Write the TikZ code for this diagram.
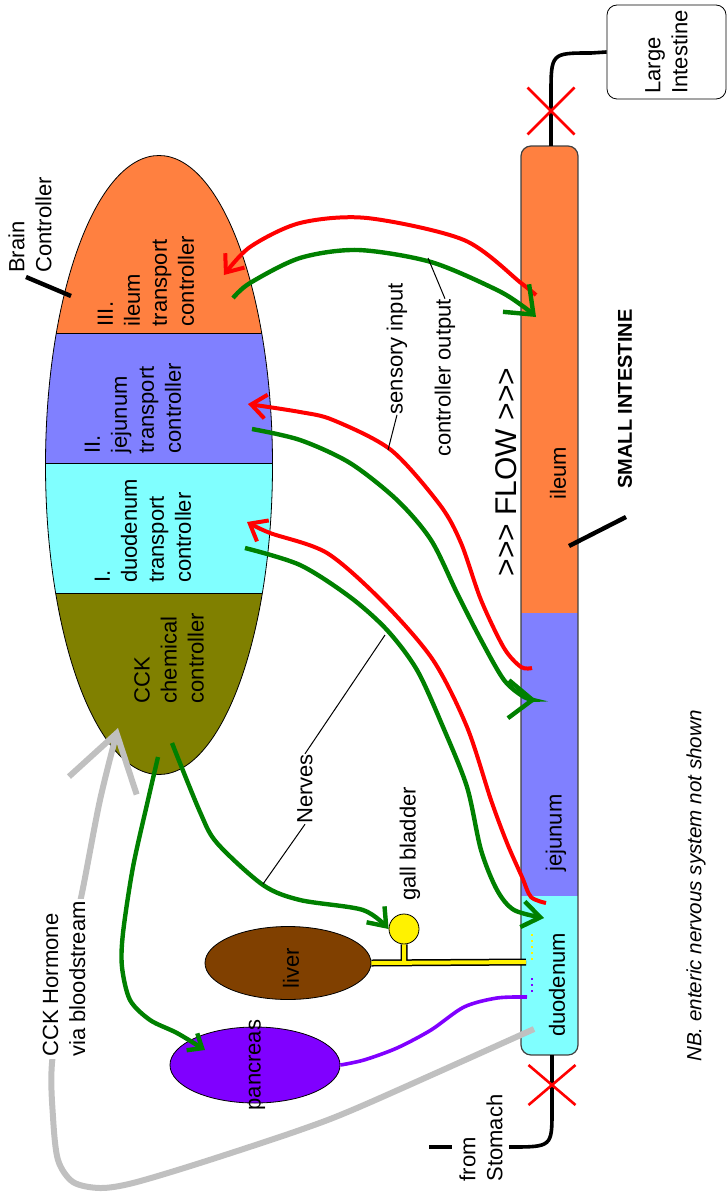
\documentclass[tikz,border=0pt]{standalone}
\usepackage{fontspec}
\setmainfont{Liberation Sans}
\usetikzlibrary{arrows.meta,shapes.geometric,shapes.misc}
\definecolor{ilc}{HTML}{FF8040}
\definecolor{jec}{HTML}{8080FF}
\definecolor{duc}{HTML}{80FFFF}
\definecolor{cckc}{HTML}{808000}
\definecolor{liverc}{HTML}{804000}
\definecolor{pancc}{HTML}{8000FF}
\definecolor{nervegreen}{HTML}{008000}
\definecolor{hormgray}{HTML}{C0C0C0}
\tikzset{
  lbl/.style={rotate=90, align=left, inner sep=0pt},
  sense/.style={line width=2pt, red, -{Straight Barb[length=7.5pt,width=12pt]}},
  ctrl/.style={line width=2.2pt, nervegreen, -{Straight Barb[length=12pt,width=19pt]}},
  hormone/.style={line width=3pt, hormgray, -{Straight Barb[length=27pt,width=35pt]}},
  organ/.style={ellipse, draw, inner sep=0pt},
  valve/.style={cross out, draw=red, line width=1.3pt, inner sep=0pt, outer sep=0pt},
  leader/.style={line width=0.5pt},
  heavy/.style={line width=2.2pt},
  gut/.style={line width=1.8pt},
}
\begin{document}
\begin{tikzpicture}[x=0.5pt, y=-0.5pt, font=\fontsize{11}{13.5}\selectfont]
  \useasboundingbox (0,0) rectangle (727,1198);
  \begin{scope}
    \clip (159,465) ellipse [x radius=113.5, y radius=309.5];
    \fill[ilc] (40,150) rectangle (280,333);
    \fill[jec] (40,333) rectangle (280,463);
    \fill[duc] (40,463) rectangle (280,593);
    \fill[cckc] (40,593) rectangle (280,780);
    \draw (40,333) -- (280,333) (40,463) -- (280,463) (40,593) -- (280,593);
  \end{scope}
  \node (brain) at (159,465) [organ, minimum width=113.5pt, minimum height=309.5pt] {};
  \begin{scope}
    \clip[rounded corners=5pt] (521,146) rectangle (578,1055);
    \fill[ilc] (521,146) rectangle (578,613);
    \fill[jec] (521,613) rectangle (578,896);
    \fill[duc] (521,896) rectangle (578,1055);
  \end{scope}
  \draw[draw=black!75, line width=0.6pt, rounded corners=5pt] (521,146) rectangle (578,1055);
  \coordinate (sitop) at (551,146);
  \coordinate (sibot) at (552,1055);
  \coordinate (stomach) at (509,1147);
  \node (large) at (666.5,52) [draw, rounded corners=5pt, rotate=90, align=left, inner sep=0pt,
    minimum width=47pt, minimum height=59.5pt] {Large\\Intestine};
  \draw[gut] (sitop) -- (551,95) .. controls (551,53) .. (591,53) -- (large.north);
  \draw[gut] (sibot) -- (552,1110) .. controls (552,1147) .. (stomach);
  \node (valvetop) at (551,111) [valve, minimum width=23.5pt, minimum height=23.5pt] {};
  \node (valvebot) at (552,1085) [valve, minimum width=23.5pt, minimum height=20pt] {};
  \coordinate (stombarA) at (429,1147);
  \coordinate (stombarB) at (452,1147);
  \draw[heavy] (stombarA) -- (stombarB);

  \node (liver) at (288,963) [organ, fill=liverc, minimum width=83pt, minimum height=36.5pt] {};
  \node (pancreas) at (255,1065) [organ, fill=pancc, minimum width=85pt, minimum height=38pt] {};
  \node (gb) at (404,929) [circle, draw, fill=yellow, minimum size=15pt, inner sep=0pt] {};
  \coordinate (ductend) at (526,962);
  \draw[line width=3.5pt] (liver.east) -- (ductend) (gb.south) -- (gb.south |- ductend);
  \draw[line width=2pt, yellow] (liver.east) -- (ductend) (gb.south) -- (gb.south |- ductend);
  \draw[yellow, line width=1pt, dotted] (532,934) -- (532,962);
  \draw[pancc, line width=1pt, dotted] (532,978) -- (532,996);
  \coordinate (pancin) at (527,997);
  \draw[line width=1.8pt, pancc] plot[smooth] coordinates {(pancreas.east) (364,1060) (397,1048)
    (431,1030) (464,1007) (497,998) (pancin)};

  \coordinate (cckout) at (534,1029);
  \coordinate (cckin) at (118,728);
  \draw[hormone] plot[smooth] coordinates {(cckout) (364,1105) (300,1130) (200,1163) (133,1183)
    (100,1188) (73,1182) (58,1160) (53,1117) (52,1063) (65,975) (83,888) (100,800) (cckin)};

  \coordinate (ilsA) at (536,295);
  \coordinate (ilsB) at (224,275);
  \coordinate (ilcA) at (233,298);
  \coordinate (ilcB) at (536,317);
  \coordinate (jesA) at (532,668);
  \coordinate (jesB) at (248,404);
  \coordinate (jecA) at (252,429);
  \coordinate (jecB) at (536,700);
  \coordinate (dusA) at (546,903);
  \coordinate (dusB) at (247,522);
  \coordinate (ducA) at (245,548);
  \coordinate (ducB) at (544,918);
  \coordinate (gbcA) at (172,743);
  \coordinate (pacA) at (158,757);
  \coordinate (pacB) at (205,1050);
  \draw[sense] plot[smooth] coordinates {(ilsA) (521,283) (464,240) (367,218) (300,223) (250,247) (ilsB)};
  \draw[ctrl] plot[smooth] coordinates {(ilcA) (250,283) (300,258) (358,250) (431,262) (497,290) (524,307) (ilcB)};
  \draw[sense] plot[smooth] coordinates {(jesA) (521,667) (504,648) (481,600) (461,543) (440,505)
    (391,450) (333,420) (300,412) (jesB)};
  \draw[ctrl] plot[smooth] coordinates {(jecA) (300,440) (350,463) (397,500) (431,540) (457,593)
    (481,640) (504,680) (524,697) (jecB)};
  \draw[sense] plot[smooth] coordinates {(dusA) (531,897) (522,877) (507,843) (491,800) (467,727)
    (433,660) (383,602) (327,553) (270,533) (dusB)};
  \draw[ctrl, -{Straight Barb[length=9pt,width=13pt]}] plot[smooth] coordinates {(ducA) (300,565)
    (350,597) (387,630) (417,670) (443,727) (467,787) (481,850) (497,890) (514,910) (ducB)};
  \draw[ctrl, -{Straight Barb[length=8pt,width=12pt]}] plot[smooth] coordinates {(gbcA) (200,812)
    (217,843) (263,885) (300,900) (363,910) (gb.west)};
  \draw[ctrl, -{Straight Barb[length=6pt,width=10pt]}] plot[smooth] coordinates {(pacA) (148,800)
    (133,867) (123,933) (122,967) (130,1000) (150,1020) (177,1033) (pacB)};

  \node (ilctl) at (146,281) [lbl] {III.\\ileum\\transport\\controller};
  \node (jectl) at (133,408) [lbl] {II.\\jejunum\\transport\\controller};
  \node (ductl) at (143,531) [lbl] {I.\\duodenum\\transport\\controller};
  \node (cckctl) at (169,658) [lbl] {CCK\\chemical\\controller};
  \node (brainlbl) at (30,225) [lbl] {Brain\\Controller};
  \node (ileumlbl) at (558,473) [lbl] {ileum};
  \node (jejunumlbl) at (556,833) [lbl] {jejunum};
  \node (duodenumlbl) at (557,985) [lbl] {duodenum};
  \node (liverlbl) at (291,968) [lbl] {liver};
  \node (panclbl) at (257,1065) [lbl] {pancreas};
  \node (gblbl) at (410,844) [lbl] {gall bladder};
  \node (nervlbl) at (305,789) [lbl] {Nerves};
  \node (senslbl) at (397,349) [lbl] {sensory input};
  \node (ctrllbl) at (445,378) [lbl] {controller output};
  \node (flowlbl) at (506,472) [lbl, font=\fontsize{15}{18}\selectfont]
    {>\kern0pt>\kern0pt> FLOW >\kern0pt>\kern0pt>};
  \node (silbl) at (625,399) [lbl, font=\bfseries] {SMALL INTESTINE};
  \node (stomlbl) at (481,1138) [lbl] {from\\Stomach};
  \node (cckhlbl) at (64,979) [lbl, fill=white, inner sep=1pt] {CCK Hormone\\via bloodstream};
  \node (nblbl) at (696,886) [lbl, font=\itshape\fontsize{10.3}{12}\selectfont]
    {NB. enteric nervous system not shown};

  \coordinate (brainpt) at (26,277);
  \coordinate (brainend) at (71,296);
  \coordinate (sipt) at (569,546);
  \coordinate (siend) at (626,517);
  \coordinate (sensend) at (388,450);
  \coordinate (ctrlend) at (428,258);
  \coordinate (nerveA) at (385,635);
  \coordinate (nerveB) at (263,884);
  \draw[heavy] (brainpt) -- (brainend);
  \draw[heavy] (sipt) -- (siend);
  \draw[leader] (senslbl.west) -- (sensend);
  \draw[leader] (ctrllbl.east) -- (ctrlend);
  \draw[leader] (nervlbl.east) -- (nerveA);
  \draw[leader] (nervlbl.west) -- (nerveB);
\end{tikzpicture}
\end{document}
